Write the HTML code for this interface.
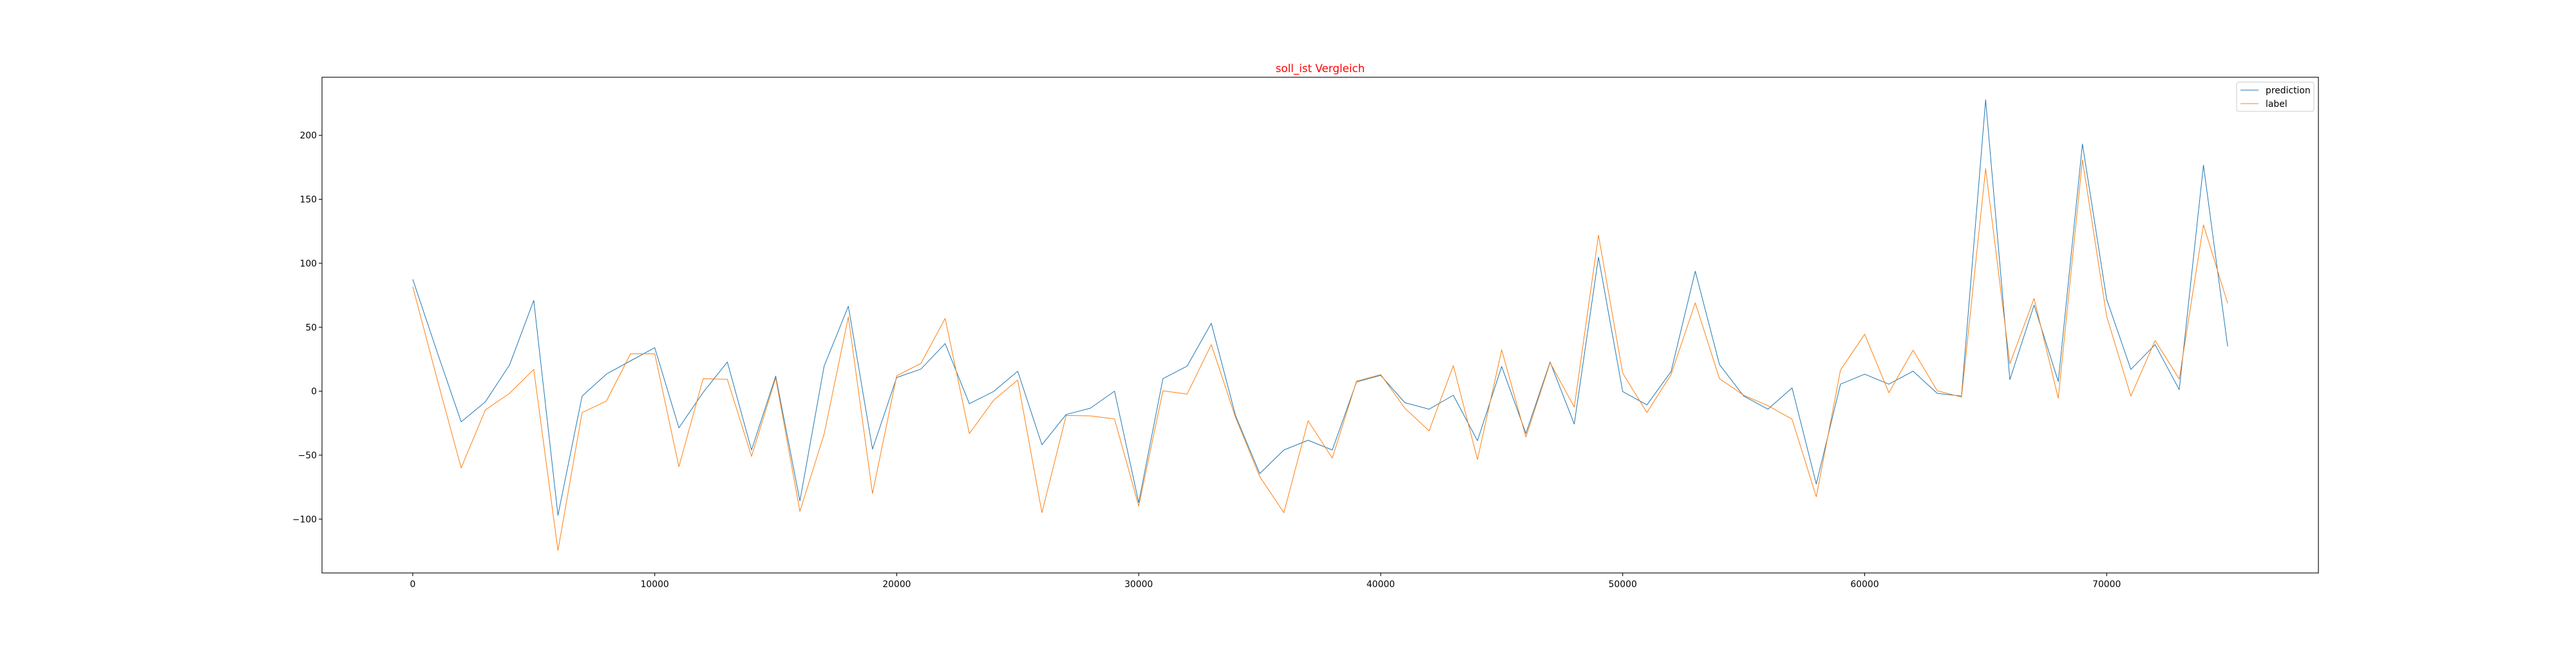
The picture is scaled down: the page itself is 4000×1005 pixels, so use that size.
<!DOCTYPE html>
<html><head><meta charset="utf-8"><style>
html,body{margin:0;padding:0;background:#fff}
svg text{font-family:"DejaVu Sans","Liberation Sans",sans-serif}
</style></head><body>
<svg id="chart" width="4000" height="1000" xmlns="http://www.w3.org/2000/svg">
<rect width="4000" height="1000" fill="#fff"/>
<g id="plot"></g>
</svg>
<script>
const xStep = 1000;
const prediction = [87.5,31,-24,-8.4,20.5,71,-97,-3.8,13.3,23.7,34,-28.6,-1,22.8,-46,11.8,-85.8,19.6,66.4,-45.3,10.7,17.3,37.2,-9.8,-0.3,15.6,-41.9,-18.2,-13.3,0,-87,9.8,19.6,53.1,-19,-64.4,-46,-38.4,-46,7.2,12.4,-9,-14.1,-3.2,-38.7,19.3,-33,22.8,-25.7,104.8,-0.3,-10.7,15.3,93.8,20.8,-3.8,-14.1,2.6,-72.5,5.5,13.3,5.5,15.6,-1.7,-3.8,227.8,9,67.3,7.5,193.2,71.9,17,36.4,1.2,176.7,35];
const label = [81.7,10,-60,-14.7,-1.7,17,-124.5,-16.7,-7.8,29.2,29.2,-59,9.8,9.2,-51,10.4,-94,-33.5,58,-80,12.1,21.7,56.9,-33.2,-7.2,8.7,-95,-19,-19.3,-21.7,-89.8,0.3,-2.3,36.4,-20.5,-66.7,-95,-23.1,-52.3,7.8,13,-13.3,-31,20,-53.4,32.3,-35.8,22.2,-12.4,122,14.1,-16.7,13,69,9.8,-3.2,-11.3,-21.9,-82.6,16.5,44.5,-1.2,32,0.3,-4.6,174,21.4,72.5,-5.5,180.8,58.6,-3.8,39.6,9.5,130,68.7];
const xTicks = [0,10000,20000,30000,40000,50000,60000,70000];
const yTicks = [-100,-50,0,50,100,150,200];

const NS="http://www.w3.org/2000/svg";
const L=500,R=3600,T=120,B=890;
const n=prediction.length;
const xMax=(n-1)*xStep, xPad=xMax*0.05;
const all=prediction.concat(label);
const yMin=Math.min(...all), yMax=Math.max(...all), yPad=(yMax-yMin)*0.05;
const x0=-xPad,x1=xMax+xPad,y0=yMin-yPad,y1=yMax+yPad;
const sx=v=>L+(v-x0)/(x1-x0)*(R-L);
const sy=v=>B-(v-y0)/(y1-y0)*(B-T);
const g=document.getElementById('plot');
function mk(tag,attrs,parent){const e=document.createElementNS(NS,tag);for(const k in attrs)e.setAttribute(k,attrs[k]);(parent||g).appendChild(e);return e;}

function series(data,color,name){
  const pts=data.map((v,i)=>sx(i*xStep).toFixed(1)+','+sy(v).toFixed(1)).join(' ');
  const p=mk('polyline',{points:pts,fill:'none',stroke:color,'stroke-width':1.0,'stroke-linejoin':'round'});
  
  
}
series(prediction,'#1f77b4','prediction-line');
series(label,'#ff7f0e','label-line');

const frame=mk('rect',{x:L,y:T,width:R-L,height:B-T,fill:'none',stroke:'#000','stroke-width':1.1});



xTicks.forEach(v=>{
  const x=sx(v);
  mk('line',{x1:x,x2:x,y1:B,y2:B+4.9,stroke:'#000','stroke-width':1.1});
  const t=mk('text',{x:x,y:B+22,'font-size':13.9,'text-anchor':'middle',fill:'#000'});
  t.textContent=v;
  
  
});
yTicks.forEach(v=>{
  const y=sy(v);
  mk('line',{x1:L-4.9,x2:L,y1:y,y2:y,stroke:'#000','stroke-width':1.1});
  const t=mk('text',{x:L-8,y:y+5,'font-size':13.9,'text-anchor':'end',fill:'#000'});
  t.textContent=v<0?'\u2212'+Math.abs(v):v;
  
  
});

const title=mk('text',{x:(L+R)/2,y:T-8,'font-size':16.7,'text-anchor':'middle',fill:'#ff0000'});
title.textContent='soll_ist Vergleich';



const lg=mk('g',{});


mk('rect',{x:3473,y:127.5,width:120,height:45.5,rx:3,fill:'#fff','fill-opacity':0.8,stroke:'#ccc','stroke-width':1},lg);
[['prediction','#1f77b4'],['label','#ff7f0e']].forEach((e,i)=>{
  const y=140+i*21;
  const ent=mk('g',{},lg);
  
  
  mk('line',{x1:3479,x2:3507,y1:y,y2:y,stroke:e[1],'stroke-width':1.0},ent);
  const t=mk('text',{x:3518,y:y+5,'font-size':13.9,fill:'#000'},ent);
  t.textContent=e[0];
});
</script>
</body></html>
